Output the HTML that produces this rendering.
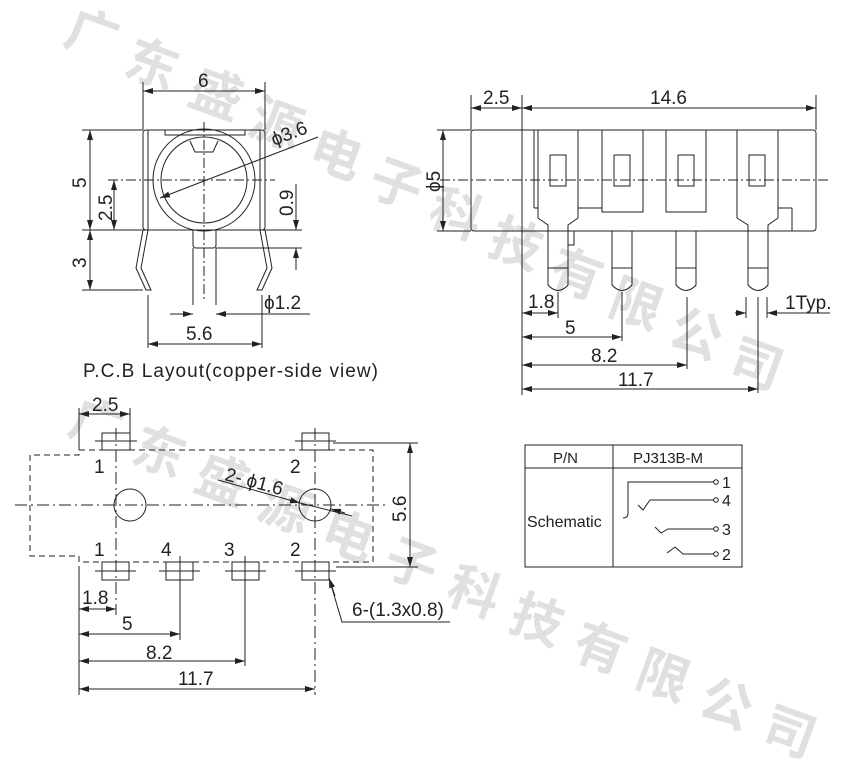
<!DOCTYPE html>
<html><head><meta charset="utf-8"><style>
html,body{margin:0;padding:0;background:#fff;}
svg{display:block;}
text{font-family:"Liberation Sans",Arial,sans-serif;fill:#222;}
text.wm{font-family:"Noto Sans CJK SC","WenQuanYi Zen Hei",sans-serif;fill:#e0e0e0;font-size:52px;font-weight:bold;}
</style></head><body>
<svg width="852" height="761" viewBox="0 0 852 761" xmlns="http://www.w3.org/2000/svg">
<defs>
<marker id="a" viewBox="0 0 10 6" refX="10" refY="3" markerWidth="10" markerHeight="6" orient="auto-start-reverse" markerUnits="userSpaceOnUse"><path d="M0,0 L10,3 L0,6 z" fill="#222"/></marker>
</defs>
<!-- watermark -->
<g>
<text class="wm" x="66" y="52" transform="rotate(20 90 35)">广</text>
<text class="wm" x="126" y="82" transform="rotate(20 150 65)">东</text>
<text class="wm" x="190" y="112" transform="rotate(20 215 95)">盛</text>
<text class="wm" x="250" y="142" transform="rotate(20 275 125)">源</text>
<text class="wm" x="310" y="172" transform="rotate(20 335 155)">电</text>
<text class="wm" x="370" y="202" transform="rotate(20 395 185)">子</text>
<text class="wm" x="430" y="232" transform="rotate(20 455 215)">科</text>
<text class="wm" x="490" y="262" transform="rotate(20 515 245)">技</text>
<text class="wm" x="550" y="292" transform="rotate(20 575 275)">有</text>
<text class="wm" x="610" y="322" transform="rotate(20 635 305)">限</text>
<text class="wm" x="670" y="352" transform="rotate(20 695 335)">公</text>
<text class="wm" x="730" y="382" transform="rotate(20 755 365)">司</text>
<text class="wm" x="70" y="442" transform="rotate(20 95 425)">广</text>
<text class="wm" x="133" y="470" transform="rotate(20 158 453)">东</text>
<text class="wm" x="196" y="498" transform="rotate(20 221 481)">盛</text>
<text class="wm" x="259" y="526" transform="rotate(20 284 509)">源</text>
<text class="wm" x="322" y="554" transform="rotate(20 347 537)">电</text>
<text class="wm" x="385" y="582" transform="rotate(20 410 565)">子</text>
<text class="wm" x="448" y="610" transform="rotate(20 473 593)">科</text>
<text class="wm" x="511" y="638" transform="rotate(20 536 621)">技</text>
<text class="wm" x="574" y="666" transform="rotate(20 599 649)">有</text>
<text class="wm" x="637" y="694" transform="rotate(20 662 677)">限</text>
<text class="wm" x="700" y="722" transform="rotate(20 725 705)">公</text>
<text class="wm" x="763" y="750" transform="rotate(20 788 733)">司</text>
</g>

<g stroke="#222" stroke-width="1" fill="none">
<!-- TOP LEFT VIEW -->
<rect x="143" y="130" width="122" height="100" rx="3"/>
<line x1="148" y1="130" x2="148" y2="230"/><line x1="260" y1="130" x2="260" y2="230"/>
<polyline points="165,130 165,135 245,135 245,130"/>
<circle cx="204" cy="180" r="51"/><circle cx="204" cy="180" r="43"/>
<polyline points="190,141 195,152 213,152 218,141"/>
<path d="M193,230 V245 Q193,248 196,248 H213 Q216,248 216,245 V230"/>
<line x1="193" y1="248" x2="193" y2="305"/><line x1="216" y1="248" x2="216" y2="305"/>
<path d="M143,230 L136,268 L146,290 L151,290 L141,268 L148,230"/>
<path d="M265,230 L272,268 L262,290 L257,290 L267,268 L260,230"/>
<line x1="108" y1="180" x2="275" y2="180" stroke-dasharray="10,3,2,3"/>
<line x1="204" y1="122" x2="204" y2="300" stroke-dasharray="10,3,2,3"/>
<line x1="82" y1="230" x2="302" y2="230"/>
<line x1="82" y1="130" x2="143" y2="130"/>
<line x1="82" y1="290" x2="143" y2="290"/>
<line x1="216" y1="248" x2="302" y2="248"/>
<line x1="143" y1="82" x2="143" y2="130"/><line x1="265" y1="82" x2="265" y2="130"/>
<line x1="143" y1="91" x2="265" y2="91" marker-start="url(#a)" marker-end="url(#a)"/>
<line x1="90" y1="130" x2="90" y2="230" marker-start="url(#a)" marker-end="url(#a)"/>
<line x1="90" y1="230" x2="90" y2="290" marker-start="url(#a)" marker-end="url(#a)"/>
<line x1="114" y1="180" x2="114" y2="230" marker-start="url(#a)" marker-end="url(#a)"/>
<line x1="296" y1="184" x2="296" y2="230" marker-end="url(#a)"/>
<line x1="296" y1="270" x2="296" y2="248" marker-end="url(#a)"/>
<line x1="318" y1="137" x2="160" y2="198" marker-end="url(#a)"/>
<line x1="170" y1="314" x2="193" y2="314" marker-end="url(#a)"/>
<line x1="310" y1="314" x2="216" y2="314" marker-end="url(#a)"/>
<line x1="148" y1="295" x2="148" y2="348"/><line x1="262" y1="295" x2="262" y2="348"/>
<line x1="148" y1="344" x2="262" y2="344" marker-start="url(#a)" marker-end="url(#a)"/>

<!-- TOP RIGHT VIEW -->
<rect x="471" y="130" width="345" height="101" rx="3"/>
<line x1="522" y1="95" x2="522" y2="395"/>
<line x1="534" y1="130" x2="534" y2="208"/>
<line x1="534" y1="208" x2="538" y2="208"/>
<line x1="578" y1="208" x2="602" y2="208"/>
<line x1="778" y1="208" x2="792" y2="208"/><line x1="792" y1="208" x2="792" y2="231"/>
<path d="M538,130 V218 L548,225 V285 Q558,296 568,285 V225 L578,218 V130"/>
<path d="M737,130 V218 L748,225 V285 Q758,296 768,285 V225 L778,218 V130"/>
<line x1="548" y1="268" x2="568" y2="268"/><line x1="748" y1="268" x2="768" y2="268"/>
<path d="M602,130 V212 H643 V130"/><path d="M666,130 V212 H706 V130"/>
<path d="M612,231 V285 Q622,296 632,285 V231"/><line x1="612" y1="268" x2="632" y2="268"/>
<path d="M676,231 V285 Q686,296 696,285 V231"/><line x1="676" y1="268" x2="696" y2="268"/>
<rect x="568" y="231" width="6" height="14"/>
<rect x="550" y="155" width="16" height="31"/><rect x="614" y="155" width="16" height="31"/>
<rect x="678" y="155" width="16" height="31"/><rect x="749" y="155" width="16" height="31"/>
<line x1="440" y1="180" x2="828" y2="180" stroke-dasharray="10,3,2,3"/>
<line x1="471" y1="95" x2="471" y2="130"/><line x1="816" y1="95" x2="816" y2="130"/>
<line x1="471" y1="108" x2="522" y2="108" marker-start="url(#a)" marker-end="url(#a)"/>
<line x1="522" y1="108" x2="816" y2="108" marker-start="url(#a)" marker-end="url(#a)"/>
<line x1="443" y1="130" x2="443" y2="231" marker-start="url(#a)" marker-end="url(#a)"/>
<line x1="437" y1="130" x2="471" y2="130"/><line x1="437" y1="231" x2="471" y2="231"/>
<line x1="558" y1="292" x2="558" y2="318"/><line x1="622" y1="292" x2="622" y2="341"/>
<line x1="687" y1="297" x2="687" y2="369"/><line x1="758" y1="297" x2="758" y2="393"/>
<line x1="746" y1="297" x2="746" y2="318"/><line x1="767" y1="297" x2="767" y2="318"/>
<line x1="522" y1="313" x2="558" y2="313" marker-start="url(#a)" marker-end="url(#a)"/>
<line x1="522" y1="337" x2="622" y2="337" marker-start="url(#a)" marker-end="url(#a)"/>
<line x1="522" y1="365" x2="687" y2="365" marker-start="url(#a)" marker-end="url(#a)"/>
<line x1="522" y1="389" x2="758" y2="389" marker-start="url(#a)" marker-end="url(#a)"/>
<line x1="735" y1="313" x2="746" y2="313" marker-end="url(#a)"/>
<line x1="830" y1="313" x2="767" y2="313" marker-end="url(#a)"/>

<!-- BOTTOM LEFT PCB -->
<polyline points="79,450 373,450 373,562 79,562 79,556 30,556 30,455 79,455 79,450" stroke-dasharray="6,4"/>
<rect x="102" y="433" width="28" height="17"/><rect x="302" y="433" width="27" height="17"/>
<rect x="102" y="562" width="27" height="18"/><rect x="166" y="562" width="27" height="18"/>
<rect x="232" y="562" width="27" height="18"/><rect x="302" y="562" width="27" height="18"/>
<line x1="95" y1="441" x2="137" y2="441"/><line x1="295" y1="441" x2="336" y2="441"/>
<line x1="95" y1="571" x2="136" y2="571"/><line x1="159" y1="571" x2="200" y2="571"/>
<line x1="225" y1="571" x2="266" y2="571"/><line x1="295" y1="571" x2="336" y2="571"/>
<circle cx="130" cy="505" r="16"/><circle cx="315" cy="505" r="16"/>
<line x1="15" y1="505" x2="385" y2="505" stroke-dasharray="12,4,2,4"/>
<line x1="116" y1="428" x2="116" y2="615" stroke-dasharray="12,4,2,4"/>
<line x1="315" y1="428" x2="315" y2="695" stroke-dasharray="12,4,2,4"/>
<line x1="180" y1="556" x2="180" y2="640"/><line x1="245" y1="556" x2="245" y2="666"/>
<line x1="130" y1="408" x2="130" y2="450"/>
<line x1="79" y1="408" x2="79" y2="450"/>
<line x1="79" y1="414" x2="130" y2="414" marker-start="url(#a)" marker-end="url(#a)"/>
<line x1="79" y1="566" x2="79" y2="695"/>
<line x1="79" y1="609" x2="116" y2="609" marker-start="url(#a)" marker-end="url(#a)"/>
<line x1="79" y1="634" x2="180" y2="634" marker-start="url(#a)" marker-end="url(#a)"/>
<line x1="79" y1="661" x2="245" y2="661" marker-start="url(#a)" marker-end="url(#a)"/>
<line x1="79" y1="689" x2="315" y2="689" marker-start="url(#a)" marker-end="url(#a)"/>
<line x1="333" y1="443" x2="418" y2="443"/><line x1="336" y1="567" x2="418" y2="567"/>
<line x1="410" y1="443" x2="410" y2="567" marker-start="url(#a)" marker-end="url(#a)"/>
<polyline points="450,622 342,622 329,578"/>
<line x1="335" y1="596" x2="329" y2="578" marker-end="url(#a)"/>
<line x1="218" y1="480" x2="300" y2="503" marker-end="url(#a)"/>
<line x1="300" y1="503" x2="352" y2="516"/>
<line x1="345" y1="513" x2="331" y2="509" marker-end="url(#a)"/>

<!-- TABLE -->
<rect x="525" y="445" width="217" height="122"/>
<line x1="525" y1="468" x2="742" y2="468"/>
<line x1="613" y1="445" x2="613" y2="567"/>
<path d="M714,482 H628 V513 Q628,518 623,518"/>
<polyline points="638,505 643,510 650,500 714,500"/>
<polyline points="655,527 661,533 668,529 714,529"/>
<polyline points="667,553 675,547 683,554 714,554"/>
<circle cx="716" cy="482" r="2.3"/><circle cx="716" cy="500" r="2.3"/>
<circle cx="716" cy="529" r="2.3"/><circle cx="716" cy="554" r="2.3"/>
</g>

<!-- TEXT -->
<g font-size="19">
<text x="198" y="87">6</text>
<text transform="translate(86,188) rotate(-90)">5</text>
<text transform="translate(86,268) rotate(-90)">3</text>
<text transform="translate(112,221) rotate(-90)">2.5</text>
<text transform="translate(293,216) rotate(-90)">0.9</text>
<text transform="translate(274,146) rotate(-21)">ϕ3.6</text>
<text x="264" y="309">ϕ1.2</text>
<text x="186" y="340">5.6</text>
<text x="83" y="377" textLength="295" lengthAdjust="spacing">P.C.B Layout(copper-side view)</text>
<text x="483" y="104">2.5</text>
<text x="650" y="104">14.6</text>
<text transform="translate(440,192) rotate(-90)">ϕ5</text>
<text x="528" y="308">1.8</text>
<text x="565" y="334">5</text>
<text x="591" y="362">8.2</text>
<text x="618" y="386">11.7</text>
<text x="785" y="309">1Typ.</text>
<text x="92" y="411">2.5</text>
<text x="94" y="473">1</text><text x="290" y="473">2</text>
<text x="94" y="556">1</text><text x="161" y="556">4</text><text x="224" y="556">3</text><text x="290" y="556">2</text>
<text transform="translate(224,480) rotate(15)">2- ϕ1.6</text>
<text transform="translate(406,522) rotate(-90)">5.6</text>
<text x="82" y="604">1.8</text>
<text x="122" y="630">5</text>
<text x="146" y="659">8.2</text>
<text x="178" y="685">11.7</text>
<text x="352" y="616">6-(1.3x0.8)</text>
</g>
<g font-size="15">
<text x="553" y="463">P/N</text>
<text x="633" y="463">PJ313B-M</text>
<text x="527" y="527" font-size="16">Schematic</text>
<text x="722" y="488" font-size="16">1</text><text x="722" y="506" font-size="16">4</text>
<text x="722" y="535" font-size="16">3</text><text x="722" y="560" font-size="16">2</text>
</g>
</svg>
</body></html>
